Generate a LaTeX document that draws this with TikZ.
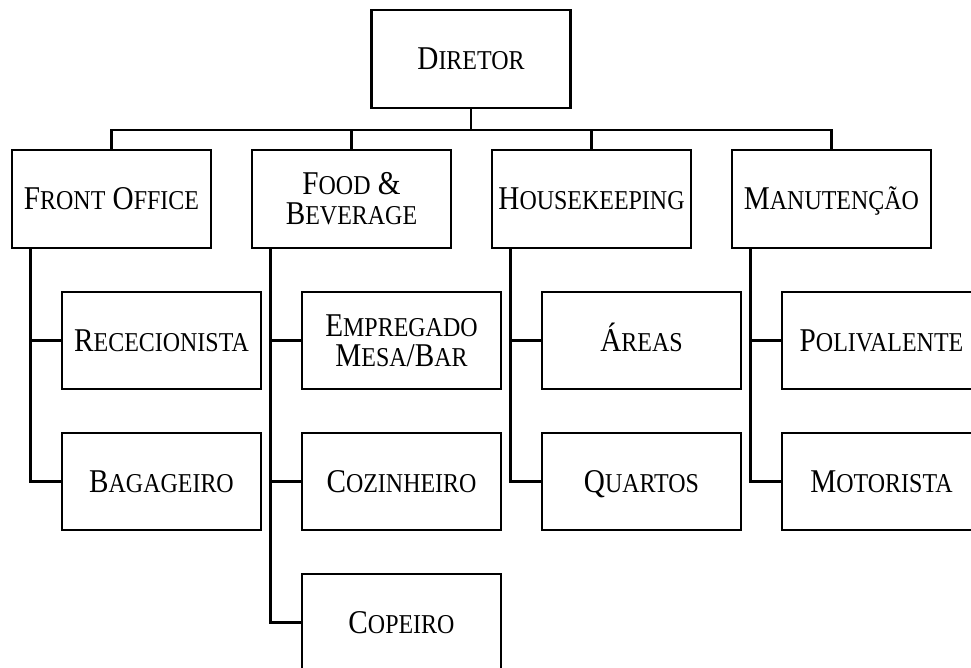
\documentclass[tikz,border=0pt]{standalone}
\usepackage{fontspec}
\setmainfont[FakeStretch=0.88]{Liberation Serif}
\usetikzlibrary{positioning}

% fake small caps: capital at full size, rest smaller
\newcommand\lc[1]{{\fontsize{15.5}{17}\selectfont #1}}

\tikzset{
  unitbox/.style={draw, line width=0.058cm, minimum width=3.98cm, minimum height=1.96cm,
                  align=center, inner sep=2pt, font=\fontsize{18.9}{17}\selectfont},
  oneline/.style={text height=12.5pt, text depth=0pt},
  subbox/.style={unitbox, minimum height=1.94cm},
  link/.style={line width=0.058cm}
}

\begin{document}
\begin{tikzpicture}[x=0.02cm, y=-0.02cm]
  \useasboundingbox (0,0) rectangle (971,668);

  %--- top ---
  \node[unitbox, oneline] (dir) at (471,59) {D\lc{IRETOR}};

  %--- departments ---
  \node[unitbox, oneline] (fo) at (111.5,199) {F\lc{RONT} O\lc{FFICE}};
  \node[unitbox] (fb) at (351.5,199) {F\lc{OOD} \&\\B\lc{EVERAGE}};
  \node[unitbox, oneline] (hk) at (591.5,199) {H\lc{OUSEKEEPING}};
  \node[unitbox, oneline] (mt) at (831.5,199) {M\lc{ANUTENÇÃO}};

  %--- staff ---
  \node[subbox, oneline] (fo1) at (161.5,340.5) {R\lc{ECECIONISTA}};
  \node[subbox, oneline] (fo2) at (161.5,481.5) {B\lc{AGAGEIRO}};
  \node[subbox] (fb1) at (401.5,340.5) {E\lc{MPREGADO}\\M\lc{ESA}/B\lc{AR}};
  \node[subbox, oneline] (fb2) at (401.5,481.5) {C\lc{OZINHEIRO}};
  \node[subbox, oneline] (fb3) at (401.5,622.5) {C\lc{OPEIRO}};
  \node[subbox, oneline] (hk1) at (641.5,340.5) {Á\lc{REAS}};
  \node[subbox, oneline] (hk2) at (641.5,481.5) {Q\lc{UARTOS}};
  \node[subbox, oneline] (mt1) at (881.5,340.5) {P\lc{OLIVALENTE}};
  \node[subbox, oneline] (mt2) at (881.5,481.5) {M\lc{OTORISTA}};

  %--- bus under the director ---
  \coordinate (bus) at (471,130);
  \draw[link] (dir.south) -- (bus);
  \draw[link] (fo.north) |- (bus) -| (mt.north);
  \foreach \d in {fb,hk} {
    \draw[link] (\d.north) -- (\d.north |- bus);
  }

  %--- spines down each department ---
  \foreach \d/\last in {fo/fo2,fb/fb3,hk/hk2,mt/mt2} {
    \coordinate (\d-s) at ([xshift=0.4cm]\d.south west);
    \draw[link] (\d-s) |- (\last.west);
  }
  \foreach \d/\k in {fo/fo1,fb/fb1,fb/fb2,hk/hk1,mt/mt1} {
    \draw[link] (\d-s |- \k.west) -- (\k.west);
  }

\end{tikzpicture}
\end{document}
